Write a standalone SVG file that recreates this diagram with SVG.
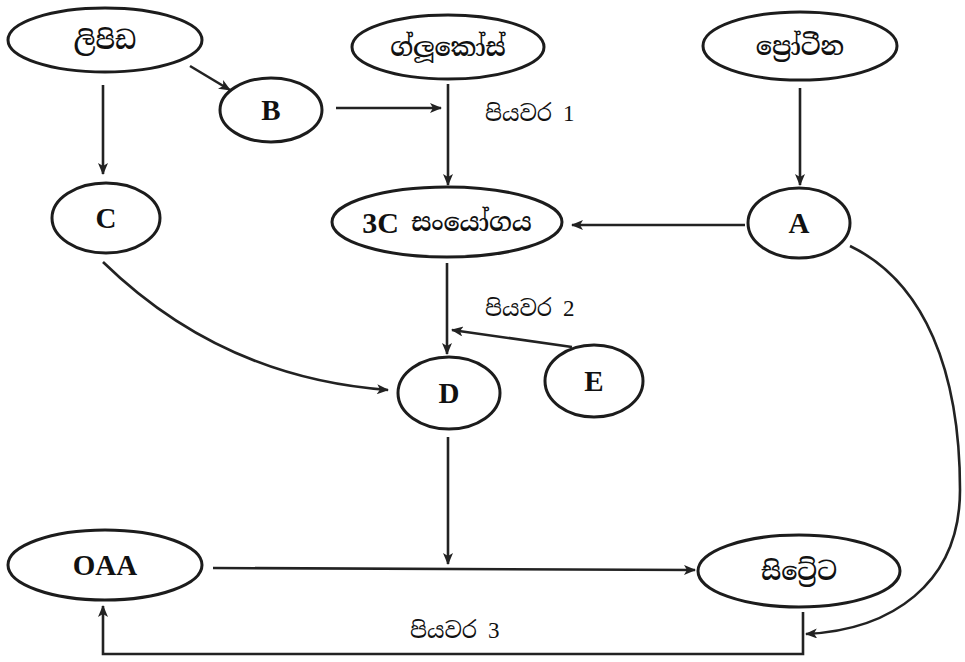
<svg xmlns="http://www.w3.org/2000/svg" width="965" height="662" viewBox="0 0 965 662">
<defs>
<marker id="ah" viewBox="0 0 12 10" refX="11" refY="5" markerWidth="13" markerHeight="10" markerUnits="userSpaceOnUse" orient="auto">
<path d="M0,0 L12,5 L0,10 L3,5 Z" fill="#222"/>
</marker>
</defs>
<style>
.n ellipse{fill:none;stroke:#1c1c1c;stroke-width:3}
.si{font-family:"Noto Serif Sinhala","Noto Sans Sinhala","Noto Sans",serif;font-size:25px;font-weight:600;fill:#111;text-anchor:middle;dominant-baseline:central}
.lt{font-family:"Liberation Serif","Times New Roman",serif;font-weight:bold;font-size:29px;fill:#111;text-anchor:middle;dominant-baseline:central}
.lab{font-family:"Noto Serif Sinhala","Noto Sans Sinhala","Liberation Serif",serif;font-size:22px;fill:#111;dominant-baseline:central}
.num{font-family:"Liberation Serif","Times New Roman",serif;font-size:23px}
.c path,.c line{fill:none;stroke:#222;stroke-width:2.6}
</style>
<rect width="965" height="662" fill="#ffffff"/>
<g class="c" id="connectors">
<line x1="103" y1="85" x2="103" y2="174" marker-end="url(#ah)"/>
<line x1="190" y1="66" x2="230" y2="90" marker-end="url(#ah)"/>
<line x1="336" y1="108" x2="441" y2="108" marker-end="url(#ah)"/>
<line x1="448" y1="84" x2="448" y2="185" marker-end="url(#ah)"/>
<line x1="800" y1="88" x2="800" y2="185" marker-end="url(#ah)"/>
<line x1="745" y1="225" x2="572" y2="225" marker-end="url(#ah)"/>
<line x1="447" y1="263" x2="447" y2="354" marker-end="url(#ah)"/>
<line x1="572" y1="347" x2="452" y2="330" marker-end="url(#ah)"/>
<path d="M103,262 Q222,378 388,390" marker-end="url(#ah)"/>
<line x1="448" y1="437" x2="448" y2="564" marker-end="url(#ah)"/>
<line x1="213" y1="568" x2="695" y2="570" marker-end="url(#ah)"/>
<path d="M803,612 L803,654 L103,654 L103,606" marker-end="url(#ah)"/>
<path d="M850,246 C925,282 960,372 960,490 C960,585 890,630 806,634" marker-end="url(#ah)"/>
</g>
<g class="n" id="lipid"><ellipse cx="105" cy="40" rx="97" ry="32"/><text class="si" x="105" y="40">ලිපිඩ</text></g>
<g class="n" id="glucose"><ellipse cx="448" cy="47" rx="96" ry="32"/><text class="si" x="448" y="47">ග්ලූකෝස්</text></g>
<g class="n" id="protein"><ellipse cx="800" cy="46" rx="97" ry="34"/><text class="si" x="800" y="46">ප්‍රෝටීන</text></g>
<g class="n" id="B"><ellipse cx="271" cy="110" rx="51" ry="32"/><text class="lt" x="271" y="110">B</text></g>
<g class="n" id="C"><ellipse cx="106" cy="218" rx="54" ry="35"/><text class="lt" x="106" y="218">C</text></g>
<g class="n" id="c3"><ellipse cx="447" cy="222" rx="115" ry="35"/><text class="si" x="447" y="222"><tspan style="font-family:'Liberation Serif',serif;font-weight:bold;font-size:30px">3C</tspan> සංයෝගය</text></g>
<g class="n" id="A"><ellipse cx="799" cy="223" rx="51" ry="35"/><text class="lt" x="799" y="223">A</text></g>
<g class="n" id="D"><ellipse cx="449" cy="393" rx="51" ry="36"/><text class="lt" x="449" y="393">D</text></g>
<g class="n" id="E"><ellipse cx="594" cy="381" rx="49" ry="36"/><text class="lt" x="594" y="381">E</text></g>
<g class="n" id="OAA"><ellipse cx="105" cy="565" rx="97" ry="35"/><text class="lt" x="105" y="565">OAA</text></g>
<g class="n" id="citrate"><ellipse cx="799" cy="571" rx="101" ry="36"/><text class="si" x="799" y="571">සිට්‍රේට</text></g>
<g id="labels">
<text class="lab" x="485" y="113">පියවර <tspan class="num">1</tspan></text>
<text class="lab" x="485" y="308">පියවර <tspan class="num">2</tspan></text>
<text class="lab" x="410" y="630">පියවර <tspan class="num">3</tspan></text>
</g>
</svg>
